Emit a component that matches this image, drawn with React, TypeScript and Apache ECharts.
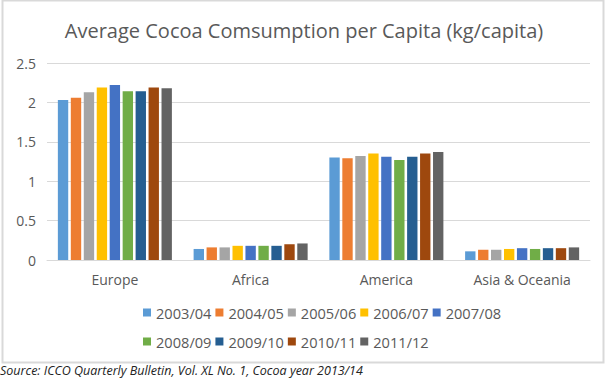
import React, { useEffect, useRef } from "react";
import * as echarts from "echarts";

const categories = ["Europe", "Africa", "America", "Asia & Oceania"];
const seasons = ["2003/04", "2004/05", "2005/06", "2006/07", "2007/08", "2008/09", "2009/10", "2010/11", "2011/12"];
const colors = ["#5B9BD5", "#ED7D31", "#A5A5A5", "#FFC000", "#4472C4", "#70AD47", "#255E91", "#9E480E", "#636363"];
const europe = [2.03, 2.06, 2.13, 2.19, 2.22, 2.14, 2.14, 2.19, 2.18];
const africa = [0.14, 0.16, 0.16, 0.18, 0.18, 0.18, 0.18, 0.2, 0.21];
const america = [1.3, 1.29, 1.32, 1.35, 1.31, 1.27, 1.31, 1.35, 1.37];
const asiaOceania = [0.11, 0.13, 0.13, 0.14, 0.15, 0.14, 0.15, 0.15, 0.16];
const yTicks = { min: 0, max: 2.5, interval: 0.5 };

const FONT = "'Open Sans', sans-serif";
const GREY = "#595959";

export default function App() {
  const ref = useRef<HTMLDivElement>(null);
  useEffect(() => {
    if (!ref.current) return;
    const chart = echarts.init(ref.current, undefined, { renderer: "svg" });
    const regions = [europe, africa, america, asiaOceania];
    const series = seasons.map((s, i) => ({
      name: s,
      type: "bar",
      data: regions.map((r) => r[i]),
      itemStyle: { color: colors[i] },
      barGap: "25%",
      barCategoryGap: "16%",
    }));
    const legendCommon = {
      left: 138,
      itemWidth: 8,
      itemHeight: 8,
      itemGap: 4,
      icon: "rect",
      textStyle: { color: GREY, fontSize: 14.6, fontFamily: FONT },
    };
    chart.setOption({
      animation: false,
      color: colors,
      title: {
        text: "Average Cocoa Comsumption per Capita (kg/capita)",
        left: "center",
        top: 15,
        textStyle: { color: GREY, fontSize: 20, fontWeight: "normal", fontFamily: FONT },
      },
      legend: [
        { ...legendCommon, top: 300, data: seasons.slice(0, 5) },
        { ...legendCommon, top: 329, data: seasons.slice(5) },
      ],
      grid: { left: 47, right: 18, top: 63, bottom: 118, containLabel: false },
      xAxis: {
        type: "category",
        data: categories,
        axisTick: { show: false },
        axisLine: { lineStyle: { color: "#D9D9D9" } },
        axisLabel: { color: GREY, fontSize: 14, fontFamily: FONT, margin: 12 },
      },
      yAxis: {
        type: "value",
        min: yTicks.min,
        max: yTicks.max,
        interval: yTicks.interval,
        axisLabel: { color: GREY, fontSize: 14, fontFamily: FONT, margin: 11 },
        splitLine: { lineStyle: { color: "#D9D9D9" } },
        axisLine: { show: false },
        axisTick: { show: false },
      },
      graphic: [
        {
          type: "rect",
          shape: { x: 2.5, y: 0.5, width: 601, height: 362 },
          style: { fill: "none", stroke: "#D9D9D9", lineWidth: 2 },
          silent: true,
        },
        {
          type: "text",
          left: 0,
          top: 364,
          style: {
            text: "Source: ICCO Quarterly Bulletin, Vol. XL No. 1, Cocoa year 2013/14",
            fill: "#222222",
            font: "italic 12.5px 'Open Sans', sans-serif",
          },
        },
      ],
      series,
    });
    return () => chart.dispose();
  }, []);
  return (
    <div
      ref={ref}
      style={{ position: "fixed", left: 0, top: 0, width: 608, height: 378, background: "#fff" }}
    />
  );
}
